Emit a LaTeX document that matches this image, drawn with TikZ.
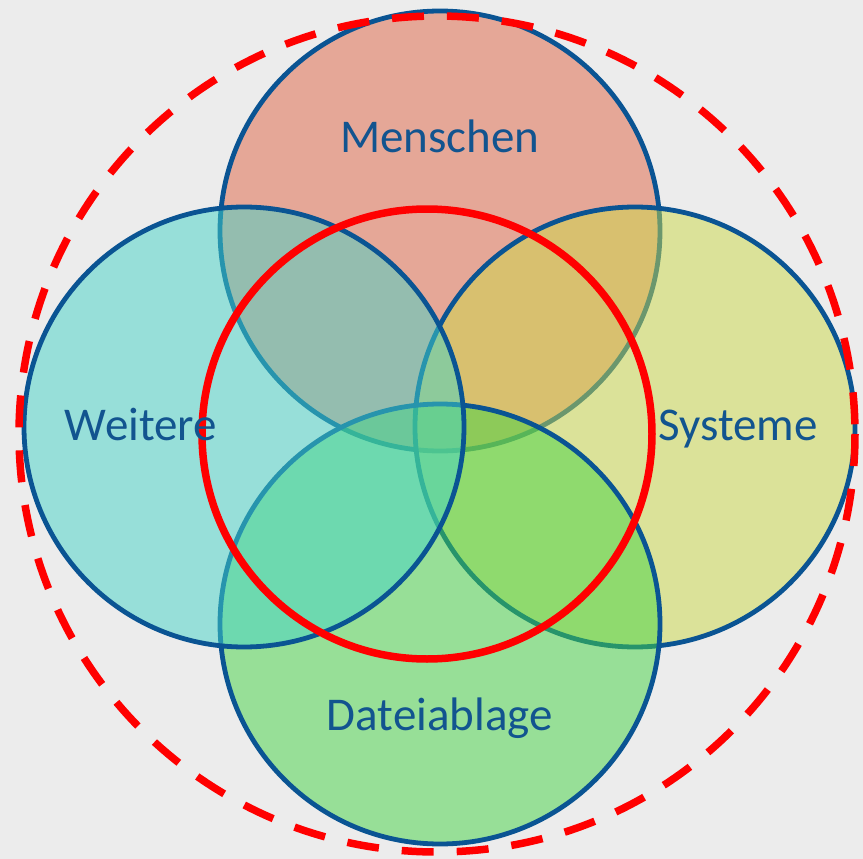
\documentclass[tikz,border=0pt]{standalone}
\usepackage{fontspec}
\setmainfont{Carlito}
\definecolor{bgray}{HTML}{ECECEC}
\definecolor{rimblue}{HTML}{0A5493}
\definecolor{txtblue}{HTML}{12548F}
\definecolor{cMenschen}{HTML}{E06444}
\definecolor{cSysteme}{HTML}{CCDA48}
\definecolor{cDatei}{HTML}{44D444}
\definecolor{cWeitere}{HTML}{44D4C8}
\tikzset{
  setcircle/.style={draw=rimblue, line width=4.8pt, fill opacity=0.5},
  setlabel/.style={text=txtblue, font=\fontsize{47}{50}\selectfont, anchor=base, inner sep=0pt},
  scopering/.style={draw=red, line width=7.5pt},
  outerring/.style={draw=red, line width=7.5pt, dash pattern=on 32pt off 23pt}
}
\begin{document}
\begin{tikzpicture}[x=1pt, y=-1pt]
  % canvas
  \fill[bgray] (0,0) rectangle (863,859);
  \useasboundingbox (0,0) rectangle (863,859);

  % the four overlapping sets
  \fill[cMenschen, setcircle] (440,231) circle[radius=220];
  \fill[cSysteme,  setcircle] (635,427) circle[radius=220];
  \fill[cDatei,    setcircle] (440,624) circle[radius=220];
  \fill[cWeitere,  setcircle] (244,427) circle[radius=220];

  % inner scope and outer boundary
  \draw[scopering] (427,434) circle[radius=225];
  \draw[outerring] (437,434) circle[radius=418];

  % labels
  \node[setlabel] (menschen) at (440,153) {Menschen};
  \node[setlabel] (weitere)  at (141,440) {Weitere};
  \node[setlabel] (systeme)  at (738,440) {Systeme};
  \node[setlabel] (datei)    at (440,730) {Dateiablage};
\end{tikzpicture}
\end{document}
